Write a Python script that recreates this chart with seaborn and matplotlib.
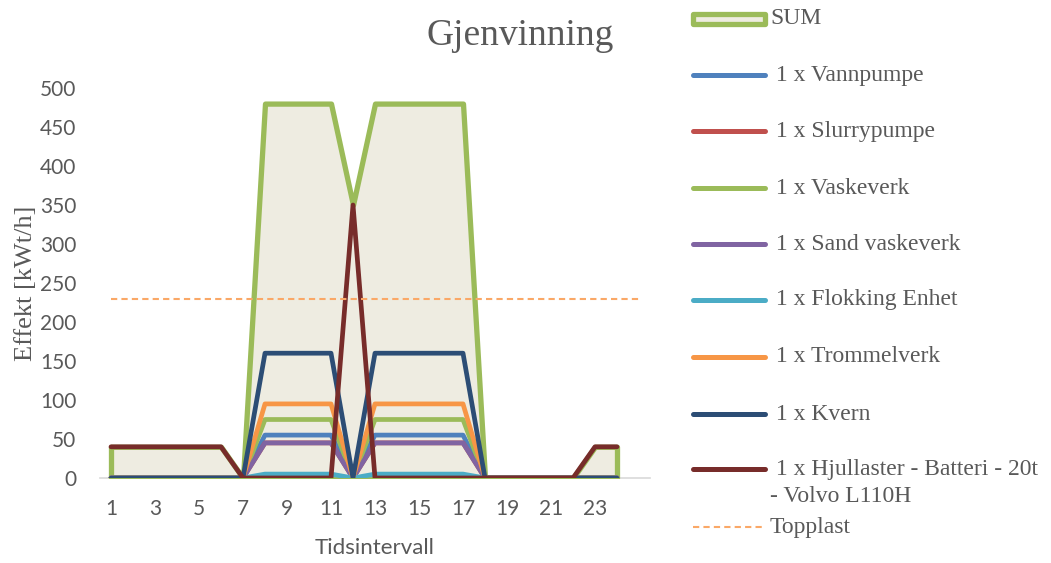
import matplotlib
matplotlib.use("Agg")
import matplotlib.pyplot as plt
from matplotlib.lines import Line2D
from matplotlib.patches import Rectangle
import numpy as np
import seaborn as sns

# Time intervals and power demand per unit [kWt/h]
intervals = list(range(1, 25))
vannpumpe   = [0, 0, 0, 0, 0, 0, 0, 55, 55, 55, 55, 0, 55, 55, 55, 55, 55, 0, 0, 0, 0, 0, 0, 0]
slurrypumpe = [0, 0, 0, 0, 0, 0, 0, 45, 45, 45, 45, 0, 45, 45, 45, 45, 45, 0, 0, 0, 0, 0, 0, 0]
vaskeverk   = [0, 0, 0, 0, 0, 0, 0, 75, 75, 75, 75, 0, 75, 75, 75, 75, 75, 0, 0, 0, 0, 0, 0, 0]
sand_vask   = [0, 0, 0, 0, 0, 0, 0, 45, 45, 45, 45, 0, 45, 45, 45, 45, 45, 0, 0, 0, 0, 0, 0, 0]
flokking    = [0, 0, 0, 0, 0, 0, 0, 5, 5, 5, 5, 0, 5, 5, 5, 5, 5, 0, 0, 0, 0, 0, 0, 0]
trommelverk = [0, 0, 0, 0, 0, 0, 0, 95, 95, 95, 95, 0, 95, 95, 95, 95, 95, 0, 0, 0, 0, 0, 0, 0]
kvern       = [0, 0, 0, 0, 0, 0, 0, 160, 160, 160, 160, 0, 160, 160, 160, 160, 160, 0, 0, 0, 0, 0, 0, 0]
hjullaster  = [40, 40, 40, 40, 40, 40, 0, 0, 0, 0, 0, 350, 0, 0, 0, 0, 0, 0, 0, 0, 0, 0, 40, 40]
total = list(np.sum([vannpumpe, slurrypumpe, vaskeverk, sand_vask, flokking,
                     trommelverk, kvern, hjullaster], axis=0))
topplast_x = list(range(1, 26))
topplast = [230] * 25

series_names = [" 1 x Vannpumpe", " 1 x Slurrypumpe", " 1 x Vaskeverk", " 1 x Sand vaskeverk",
                " 1 x Flokking Enhet", " 1 x Trommelverk", " 1 x Kvern",
                " 1 x Hjullaster - Batteri - 20t"]
series_values = [vannpumpe, slurrypumpe, vaskeverk, sand_vask, flokking,
                 trommelverk, kvern, hjullaster]
series_colors = ["#4F81BD", "#C0504D", "#9BBB59", "#8064A2", "#4BACC6",
                 "#F79646", "#2C4D75", "#772C2A"]
x_ticks = [1, 3, 5, 7, 9, 11, 13, 15, 17, 19, 21, 23]
y_ticks = list(range(0, 501, 50))

sns.set_theme(style="white")
plt.rcParams["font.family"] = ["Lato", "DejaVu Sans"]
grey = "#595959"
serif = ["Liberation Serif", "DejaVu Serif"]

W, H = 1051, 563
fig = plt.figure(figsize=(W / 100, H / 100), dpi=100)
ax = fig.add_axes([100 / W, 1 - 478 / H, 550 / W, 390 / H])

# SUM as a filled area with a green outline
ax.fill_between(intervals, total, 0, facecolor="#EEECE1", edgecolor="#9BBB59",
                linewidth=3.8, joinstyle="round", zorder=1)

for vals, col in zip(series_values, series_colors):
    sns.lineplot(x=intervals, y=vals, ax=ax, color=col, linewidth=3.4,
                 solid_joinstyle="round", solid_capstyle="round", zorder=2)

sns.lineplot(x=topplast_x, y=topplast, ax=ax, color="#FAA867", linewidth=1.5,
             linestyle=(0, (3, 2)), zorder=3)

ax.set_xlim(0.5, 25.5)
ax.set_ylim(0, 500)
ax.set_xticks(x_ticks)
ax.set_yticks(y_ticks)
ax.tick_params(axis="both", length=0, labelsize=15, labelcolor=grey)
ax.tick_params(axis="y", pad=17)
ax.tick_params(axis="x", pad=15)
for s in ["top", "right", "left"]:
    ax.spines[s].set_visible(False)
ax.spines["bottom"].set_color("#D9D9D9")
ax.spines["bottom"].set_linewidth(1.2)
ax.spines["bottom"].set_zorder(0)

ax.set_xlabel("Tidsintervall", fontsize=16, color=grey, labelpad=14)
ax.set_ylabel("Effekt [kWt/h]", fontsize=19, color=grey, family=serif, labelpad=2)

fig.text(520 / W, 1 - 36 / H, "Gjenvinning", ha="center", va="center",
         fontsize=27, color=grey, family=serif)

# Legend column on the right
hx0, hx1 = 693 / W, 765 / W
def fy(py):
    return 1 - py / H

fig.add_artist(Rectangle((hx0, fy(24)), hx1 - hx0, 10 / H, transform=fig.transFigure,
                         facecolor="#EEECE1", edgecolor="#9BBB59", linewidth=3.8,
                         joinstyle="round"))
fig.text(770 / W, fy(19), "SUM", ha="left", va="center", fontsize=17,
         color=grey, family=serif)

ys = [75, 131, 188, 244, 300, 357, 414, 469]
for py, name, col in zip(ys, series_names, series_colors):
    fig.add_artist(Line2D([hx0, hx1], [fy(py), fy(py)], transform=fig.transFigure,
                          color=col, linewidth=3.6, solid_capstyle="round"))
    fig.text(770 / W, fy(py), name, ha="left", va="center", fontsize=17,
             color=grey, family=serif)
fig.text(770 / W, fy(497), "- Volvo L110H", ha="left", va="center", fontsize=17,
         color=grey, family=serif)

fig.add_artist(Line2D([hx0, hx1], [fy(527), fy(527)], transform=fig.transFigure,
                      color="#FAA867", linewidth=1.5, linestyle=(0, (3, 2))))
fig.text(770 / W, fy(527), "Topplast", ha="left", va="center", fontsize=17,
         color=grey, family=serif)

fig.savefig("out.png", dpi=100)
